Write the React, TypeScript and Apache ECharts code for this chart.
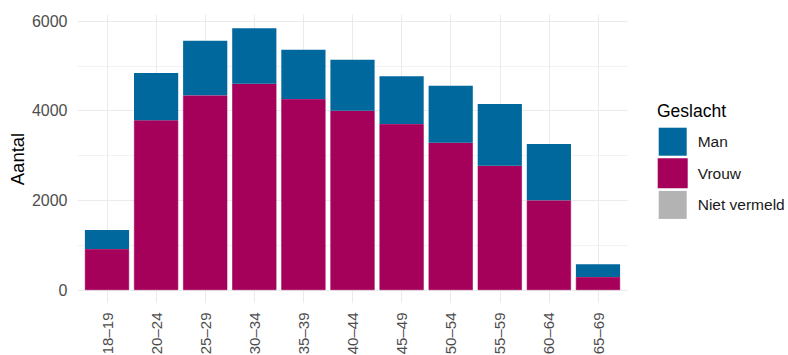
import React, { useEffect, useRef } from "react";
import * as echarts from "echarts";

const categories = ["18–19", "20–24", "25–29", "30–34", "35–39", "40–44", "45–49", "50–54", "55–59", "60–64", "65–69"];
const vrouw = [914, 3785, 4342, 4602, 4260, 4000, 3703, 3286, 2773, 2000, 290];
const man = [424, 1055, 1219, 1235, 1100, 1137, 1063, 1271, 1376, 1257, 283];
const nietVermeld = [0, 0, 0, 0, 0, 0, 0, 0, 0, 0, 0];
const yTicks = [0, 2000, 4000, 6000];

const FONT = "'Liberation Sans', Arial, sans-serif";

export default function App() {
  const ref = useRef<HTMLDivElement>(null);
  useEffect(() => {
    if (!ref.current) return;
    const chart = echarts.init(ref.current, null, { renderer: "svg" });
    const panelTop = 14.6;
    const panelBottom = 355 - 303.1;
    const yMin = yTicks[0];
    const yMax = yTicks[yTicks.length - 1];
    chart.setOption({
      animation: false,
      textStyle: { fontFamily: FONT },
      grid: [
        { left: 77.5, right: 788 - 627.5, top: 21, bottom: 355 - 290, outerBoundsMode: "none", containLabel: false },
        { left: 82.45, right: 788 - 622.55, top: 21, bottom: 355 - 290, outerBoundsMode: "none", containLabel: false },
        { left: 107, right: 788 - 598, top: panelTop, bottom: panelBottom, outerBoundsMode: "none", containLabel: false },
      ],
      xAxis: [
        { gridIndex: 0, type: "value", show: false, min: 0, max: 1 },
        {
          gridIndex: 1,
          type: "category",
          data: categories,
          axisLine: { show: false },
          axisTick: { show: false },
          splitLine: { show: false },
          axisLabel: { rotate: 90, margin: 22.5, fontSize: 15, color: "#4D4D4D", fontFamily: FONT },
        },
        {
          gridIndex: 2,
          type: "value",
          min: 0,
          max: categories.length - 1,
          interval: 1,
          axisLine: { show: false },
          axisTick: { show: false },
          axisLabel: { show: false },
          splitLine: { show: true, lineStyle: { color: "#EBEBEB", width: 1 } },
        },
      ],
      yAxis: [
        {
          gridIndex: 0,
          type: "value",
          min: yMin,
          max: yMax,
          interval: 2000,
          axisLine: { show: false },
          axisTick: { show: false },
          axisLabel: {
            margin: 10,
            fontSize: 16,
            color: "#4D4D4D",
            fontFamily: FONT,
            formatter: (v: number) => String(v),
          },
          splitLine: { show: true, lineStyle: { color: "#EBEBEB", width: 1 } },
          minorTick: { show: false, splitNumber: 2 },
          minorSplitLine: { show: true, lineStyle: { color: "#F2F2F2", width: 1 } },
        },
        { gridIndex: 1, type: "value", min: yMin, max: yMax, show: false, splitLine: { show: false } },
        { gridIndex: 2, type: "value", min: 0, max: 1, show: false, splitLine: { show: false } },
      ],
      legend: {
        orient: "vertical",
        left: 657.7,
        top: 127.7,
        padding: 0,
        itemWidth: 28,
        itemHeight: 28,
        itemGap: 2.6,
        icon: "rect",
        data: ["Man", "Vrouw", "Niet vermeld"],
        textStyle: { fontSize: 15.5, color: "#1A1A1A", fontFamily: FONT, padding: [0, 0, 0, 6] },
        selectedMode: false,
      },
      graphic: [
        {
          type: "text",
          x: 17,
          y: 159,
          rotation: Math.PI / 2,
          style: {
            text: "Aantal",
            fontSize: 18.5,
            fill: "#000",
            fontFamily: FONT,
            textAlign: "center",
            textVerticalAlign: "middle",
          },
        },
        {
          type: "text",
          x: 657,
          y: 111,
          style: {
            text: "Geslacht",
            fontSize: 17.5,
            fill: "#000",
            fontFamily: FONT,
            textAlign: "left",
            textVerticalAlign: "middle",
          },
        },
      ],
      series: [
        {
          name: "Niet vermeld",
          type: "bar",
          stack: "total",
          xAxisIndex: 1,
          yAxisIndex: 1,
          barWidth: "90%",
          itemStyle: { color: "#B3B3B3" },
          data: nietVermeld,
        },
        {
          name: "Vrouw",
          type: "bar",
          stack: "total",
          xAxisIndex: 1,
          yAxisIndex: 1,
          barWidth: "90%",
          itemStyle: { color: "#A5005A", borderColor: "#A5005A", borderWidth: 0.6 },
          data: vrouw,
        },
        {
          name: "Man",
          type: "bar",
          stack: "total",
          xAxisIndex: 1,
          yAxisIndex: 1,
          barWidth: "90%",
          itemStyle: { color: "#00689D" },
          data: man,
        },
      ],
    });
    return () => chart.dispose();
  }, []);
  return <div ref={ref} style={{ width: 788, height: 355, position: "absolute", left: 0, top: 0 }} />;
}
